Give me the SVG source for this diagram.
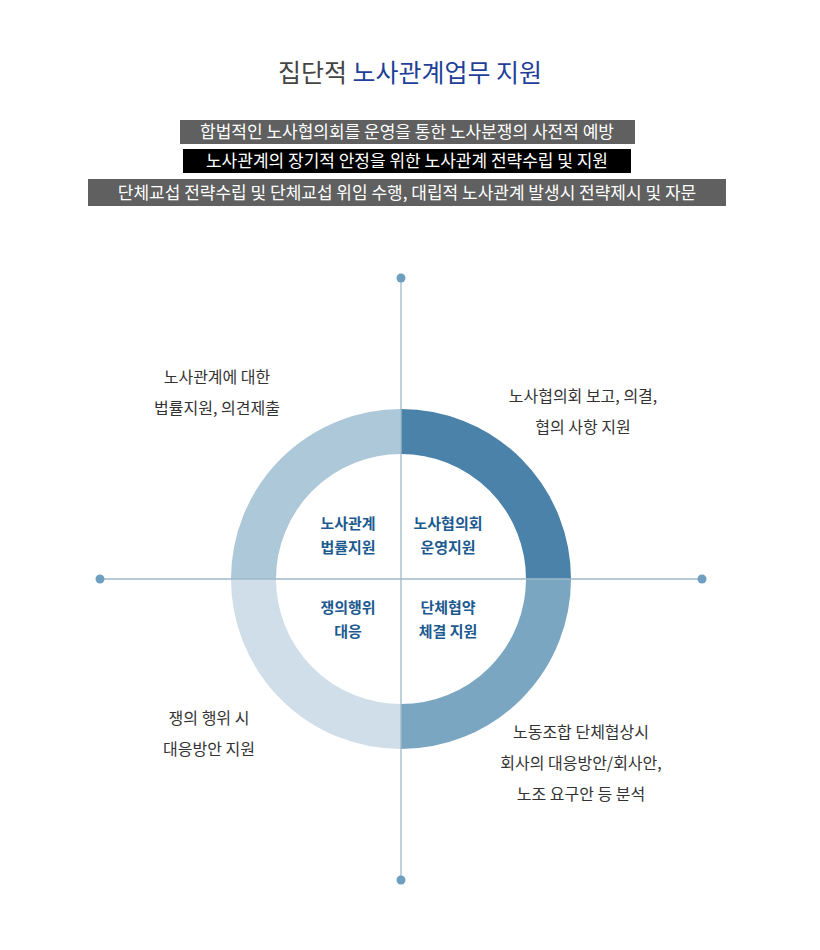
<svg xmlns="http://www.w3.org/2000/svg" width="820" height="950" viewBox="0 0 820 950">
<style>
text{font-family:"Noto Sans CJK KR","Noto Sans",sans-serif;text-anchor:middle}
.ban{fill:#fff;font-size:17px}
.lab{fill:#333;font-size:16px}
.in{fill:#1d5a8f;font-size:15px;font-weight:bold}
.ax{stroke:#9fb8c9;stroke-width:1.3}
.dot{fill:#6f9fc0}
</style>
<rect width="820" height="950" fill="#fff"/>
<text x="410" y="82" font-size="25" fill="#444">집단적 <tspan fill="#1f3f99">노사관계업무 지원</tspan></text>
<rect x="180" y="120" width="455" height="24" fill="#606060"/>
<text class="ban" x="407" y="138">합법적인 노사협의회를 운영을 통한 노사분쟁의 사전적 예방</text>
<rect x="183" y="149" width="448" height="24" fill="#000"/>
<text class="ban" x="407" y="167">노사관계의 장기적 안정을 위한 노사관계 전략수립 및 지원</text>
<rect x="88" y="179" width="638" height="27" fill="#606060"/>
<text class="ban" x="407" y="199">단체교섭 전략수립 및 단체교섭 위임 수행, 대립적 노사관계 발생시 전략제시 및 자문</text>
<g id="ring" fill="none" stroke-width="45">
<path d="M401 431.5 A147.5 147.5 0 0 1 548.5 579" stroke="#4a82a9"/>
<path d="M548.5 579 A147.5 147.5 0 0 1 401 726.5" stroke="#7aa6c2"/>
<path d="M401 726.5 A147.5 147.5 0 0 1 253.5 579" stroke="#cfdee8"/>
<path d="M253.5 579 A147.5 147.5 0 0 1 401 431.5" stroke="#adc8d8"/>
</g>
<g id="connectors">
<line class="ax" x1="401" y1="278" x2="401" y2="880"/>
<line class="ax" x1="100" y1="579" x2="702" y2="579"/>
<circle class="dot" cx="401" cy="278" r="4.5"/>
<circle class="dot" cx="401" cy="880" r="4.5"/>
<circle class="dot" cx="100" cy="579" r="4.5"/>
<circle class="dot" cx="702" cy="579" r="4.5"/>
</g>
<g id="n1"><text class="in" x="348" y="529">노사관계</text><text class="in" x="348" y="553">법률지원</text></g>
<g id="n2"><text class="in" x="448" y="529">노사협의회</text><text class="in" x="448" y="553">운영지원</text></g>
<g id="n3"><text class="in" x="348" y="613">쟁의행위</text><text class="in" x="348" y="637">대응</text></g>
<g id="n4"><text class="in" x="448" y="613">단체협약</text><text class="in" x="448" y="637">체결 지원</text></g>
<g id="l1"><text class="lab" x="217" y="383">노사관계에 대한</text><text class="lab" x="217" y="414">법률지원, 의견제출</text></g>
<g id="l2"><text class="lab" x="583" y="402">노사협의회 보고, 의결,</text><text class="lab" x="583" y="433">협의 사항 지원</text></g>
<g id="l3"><text class="lab" x="209" y="724">쟁의 행위 시</text><text class="lab" x="209" y="755">대응방안 지원</text></g>
<g id="l4"><text class="lab" x="581" y="738">노동조합 단체협상시</text><text class="lab" x="581" y="769">회사의 대응방안/회사안,</text><text class="lab" x="581" y="800">노조 요구안 등 분석</text></g>
</svg>
